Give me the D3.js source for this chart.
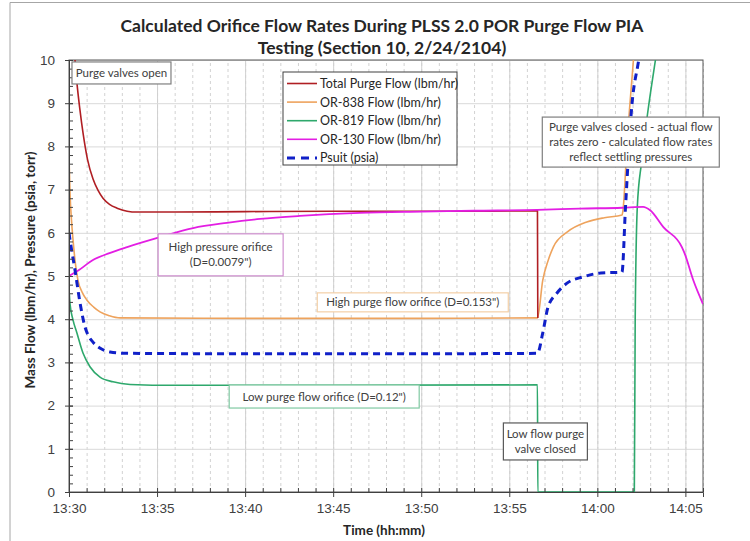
<!DOCTYPE html>
<html>
<head>
<meta charset="utf-8">
<script src="https://cdn.jsdelivr.net/npm/d3@7"></script>
<style>
  body { margin: 0; background: #fff; }
  svg { font-family: Lato, "Open Sans", sans-serif; }
</style>
</head>
<body>
<div id="D3Plot"></div>
<script>
// values: [minutes after 13:30, value]
var totalPurge = [[0.15, 11], [0.34, 10.0], [0.45, 9.47], [0.62, 8.85], [0.8, 8.3], [1.05, 7.7], [1.36, 7.25],
  [1.65, 6.98], [1.93, 6.8], [2.3, 6.66], [2.73, 6.57], [3.3, 6.5], [3.86, 6.48], [6, 6.48], [10, 6.49],
  [15, 6.5], [20, 6.5], [24, 6.5], [26.6, 6.51], [26.62, 4.03]];

var or838 = [[0, 7.75], [0.06, 6.9], [0.14, 6.3], [0.23, 5.83], [0.36, 5.3], [0.51, 4.9], [0.75, 4.62],
  [1.02, 4.44], [1.4, 4.28], [1.76, 4.17], [2.3, 4.08], [2.9, 4.03], [10, 4.02], [20, 4.02], [26.6, 4.03],
  [26.9, 4.9], [27.2, 5.35], [27.5, 5.67], [28.3, 6.02], [29.4, 6.25], [30.4, 6.35], [31.4, 6.41],
  [31.45, 6.5], [31.7, 8.15], [32.05, 10], [32.2, 10.8]];

var or819 = [[0, 4.7], [0.06, 4.35], [0.23, 3.98], [0.45, 3.68], [0.8, 3.21], [1.19, 2.9], [1.76, 2.66],
  [2.5, 2.55], [3.47, 2.49], [6, 2.47], [15, 2.47], [26.6, 2.48], [26.62, 0], [32.1, 0], [32.15, 4.0],
  [32.27, 6.6], [32.5, 7.6], [32.85, 8.75], [33.3, 10], [33.45, 10.4]];

var or130 = [[0, 5.0], [0.5, 5.12], [1.36, 5.37], [2.3, 5.53], [3.3, 5.67], [5.17, 5.9], [7.05, 6.11],
  [8.97, 6.23], [10.85, 6.32], [13.1, 6.39], [16.5, 6.46], [20, 6.49], [23, 6.51], [26.6, 6.53], [29, 6.56],
  [31.4, 6.58], [32.6, 6.6], [33.0, 6.52], [33.75, 6.13], [34.8, 5.67], [34.95, 5.53], [35.45, 4.9], [36.0, 4.35]];

var psuit = [[0, 6.0], [0.06, 5.83], [0.34, 5.14], [0.63, 4.37], [0.91, 3.82], [1.1, 3.62], [1.36, 3.47],
  [1.8, 3.32], [2.33, 3.24], [3.3, 3.21], [10, 3.2], [20, 3.2], [26.6, 3.21], [26.9, 3.68], [27.2, 4.28],
  [27.7, 4.6], [28.3, 4.84], [29.2, 4.98], [30.2, 5.07], [31.4, 5.09], [31.6, 6.6], [31.95, 8.9],
  [32.35, 10], [32.5, 10.4]];

var seriesNames = ["Total Purge Flow (lbm/hr)", "OR-838 Flow (lbm/hr)", "OR-819 Flow (lbm/hr)",
  "OR-130 Flow (lbm/hr)", "Psuit (psia)"];
var seriesData = [totalPurge, or838, or819, or130, psuit];

var yTickValues = [0, 1, 2, 3, 4, 5, 6, 7, 8, 9, 10];
var titleLines = ["Calculated Orifice Flow Rates During PLSS 2.0 POR Purge Flow PIA",
  "Testing (Section 10, 2/24/2104)"];
var xTitle = "Time (hh:mm)";
var yTitle = "Mass Flow (lbm/hr), Pressure (psia, torr)";

// look of each series
var seriesStyle = [
  {color: "#b01e23", width: 1.6, dash: null},
  {color: "#eea35d", width: 1.6, dash: null},
  {color: "#2ea86c", width: 1.6, dash: null},
  {color: "#e31ee3", width: 1.8, dash: null},
  {color: "#1020c8", width: 3, dash: "7,5"}
];

// callout boxes, centre given in chart units
var notes = [
  {lines: ["Purge valves open"], t: 2.98, v: 9.70, w: 99, h: 22, stroke: "#7f7f7f"},
  {lines: ["Purge valves closed - actual flow", "rates zero - calculated flow rates", "reflect settling pressures"],
    t: 31.9, v: 8.10, w: 177, h: 50, stroke: "#7f7f7f"},
  {lines: ["High pressure orifice", "(D=0.0079\")"], t: 8.61, v: 5.49, w: 125, h: 42, stroke: "#cf8fcf"},
  {lines: ["High purge flow orifice (D=0.153\")"], t: 19.52, v: 4.39, w: 191, h: 19, stroke: "#f3cfa6"},
  {lines: ["Low purge flow orifice (D=0.12\")"], t: 14.49, v: 2.21, w: 190, h: 23, stroke: "#80c9a2"},
  {lines: ["Low flow purge", "valve closed"], t: 27.05, v: 1.17, w: 84, h: 37, stroke: "#595959"}
];

var W = 750, H = 541;
var margin = {top: 60, right: 47, bottom: 49, left: 69},
  width = W - margin.left - margin.right,
  height = H - margin.top - margin.bottom;

var t0 = new Date(2014, 1, 24, 13, 30);
function toDate(m) { return new Date(t0.getTime() + m * 60000); }

var svg0 = d3.select("#D3Plot").append("svg")
  .attr("width", W).attr("height", H);

// outer chart frame (only top and left show in the picture)
svg0.append("path").attr("d", "M10,541V2.5H750")
  .attr("fill", "none").attr("stroke", "#a6a6a6").attr("stroke-width", 1);

var svg = svg0.append("g")
  .attr("transform", "translate(" + margin.left + "," + margin.top + ")");

var x = d3.scaleTime().domain([t0, toDate(36)]).range([0, width]);
var y = d3.scaleLinear().domain([0, 10]).range([height, 0]);

// gridlines
svg.append("g")
  .attr("transform", "translate(0," + height + ")")
  .call(d3.axisBottom(x).ticks(d3.timeMinute.every(1)).tickSize(-height).tickFormat(""))
  .call(function(g) {
    g.select(".domain").remove();
    g.selectAll("line").attr("stroke", "#d2d2d2").attr("stroke-dasharray", "3,3");
  });
svg.append("g")
  .attr("transform", "translate(0," + height + ")")
  .call(d3.axisBottom(x).ticks(d3.timeMinute.every(5)).tickSize(-height).tickFormat(""))
  .call(function(g) {
    g.select(".domain").remove();
    g.selectAll("line").attr("stroke", "#d0d0d0").attr("stroke-dasharray", null);
  });
svg.append("g")
  .call(d3.axisLeft(y).tickValues(yTickValues).tickSize(-width).tickFormat(""))
  .call(function(g) {
    g.select(".domain").remove();
    g.selectAll("line").attr("stroke", "#d9d9d9");
  });

// plot frame
svg.append("rect").attr("width", width).attr("height", height)
  .attr("fill", "none").attr("stroke", "#595959").attr("stroke-width", 1);

// series
svg.append("clipPath").attr("id", "clip")
  .append("rect").attr("width", width).attr("height", height);

var line = d3.line()
  .x(function(d) { return x(toDate(d[0])); })
  .y(function(d) { return y(d[1]); })
  .curve(d3.curveMonotoneX);

var plotArea = svg.append("g").attr("clip-path", "url(#clip)");
// draw order: green, orange, red, magenta, blue on top
[2, 1, 0, 3, 4].forEach(function(i) {
  plotArea.append("path")
    .datum(seriesData[i])
    .attr("fill", "none")
    .attr("stroke", seriesStyle[i].color)
    .attr("stroke-width", seriesStyle[i].width)
    .attr("stroke-dasharray", seriesStyle[i].dash)
    .attr("d", line);
});

// axes
var axisColor = "#404040";
var xAxis = svg.append("g").attr("class", "axis")
  .attr("transform", "translate(0," + height + ")")
  .call(d3.axisBottom(x).ticks(d3.timeMinute.every(5)).tickFormat(d3.timeFormat("%H:%M"))
    .tickSize(5).tickPadding(6));
xAxis.selectAll("text").style("font-size", "13.5px").attr("fill", "#404040");
svg.append("g").attr("class", "axis")
  .attr("transform", "translate(0," + height + ")")
  .call(d3.axisBottom(x).ticks(d3.timeMinute.every(1)).tickFormat("").tickSize(-4))
  .select(".domain").remove();

var yAxis = svg.append("g").attr("class", "axis")
  .call(d3.axisLeft(y).tickValues(yTickValues).tickSize(4).tickPadding(10));
yAxis.selectAll("text").style("font-size", "13.5px").attr("fill", "#404040");
svg.append("g").attr("class", "axis")
  .call(d3.axisLeft(y).tickValues(d3.range(0, 10.01, 0.2)).tickFormat("").tickSize(-4))
  .select(".domain").remove();
svg.append("g").attr("class", "axis")
  .call(d3.axisLeft(y).tickValues(yTickValues).tickFormat("").tickSize(-4))
  .select(".domain").remove();
svg.selectAll(".axis .domain, .axis .tick line").attr("stroke", axisColor);

// titles
svg0.selectAll(".title").data(titleLines).enter().append("text")
  .attr("class", "title")
  .attr("x", 382).attr("y", function(d, i) { return 32 + i * 22; })
  .attr("text-anchor", "middle")
  .style("font-size", "17.5px").style("font-weight", "bold").attr("fill", "#262626")
  .text(function(d) { return d; });

svg0.append("text")
  .attr("x", margin.left + width / 2 - 2).attr("y", 535)
  .attr("text-anchor", "middle")
  .style("font-size", "13.5px").style("font-weight", "bold").attr("fill", "#262626")
  .text(xTitle);

svg0.append("text")
  .attr("transform", "translate(35," + (margin.top + height / 2 - 6) + ") rotate(-90)")
  .attr("text-anchor", "middle")
  .style("font-size", "13.5px").style("font-weight", "bold").attr("fill", "#262626")
  .text(yTitle);

// legend
var lg = svg.append("g").attr("transform", "translate(214,12)");
lg.append("rect").attr("width", 174).attr("height", 93)
  .attr("fill", "#fff").attr("stroke", "#404040").attr("stroke-width", 1);
seriesNames.forEach(function(name, i) {
  var yy = 11.5 + i * 18.6;
  lg.append("line")
    .attr("x1", 4).attr("x2", 34).attr("y1", yy).attr("y2", yy)
    .attr("stroke", seriesStyle[i].color)
    .attr("stroke-width", i == 4 ? 3 : 1.6)
    .attr("stroke-dasharray", i == 4 ? "8,6" : null);
  lg.append("text")
    .attr("x", 37).attr("y", yy + 4.5)
    .style("font-size", "12.5px").attr("fill", "#262626")
    .text(name);
});

// callouts
notes.forEach(function(n) {
  var cx = x(toDate(n.t)), cy = y(n.v);
  var g = svg.append("g");
  g.append("rect")
    .attr("x", cx - n.w / 2).attr("y", cy - n.h / 2)
    .attr("width", n.w).attr("height", n.h)
    .attr("fill", "#fff").attr("stroke", n.stroke).attr("stroke-width", 1.2);
  var step = 15;
  n.lines.forEach(function(s, i) {
    g.append("text")
      .attr("x", cx)
      .attr("y", cy + (i - (n.lines.length - 1) / 2) * step + 4)
      .attr("text-anchor", "middle")
      .style("font-size", "11.5px").attr("fill", "#404040")
      .text(s);
  });
});
</script>
</body>
</html>
